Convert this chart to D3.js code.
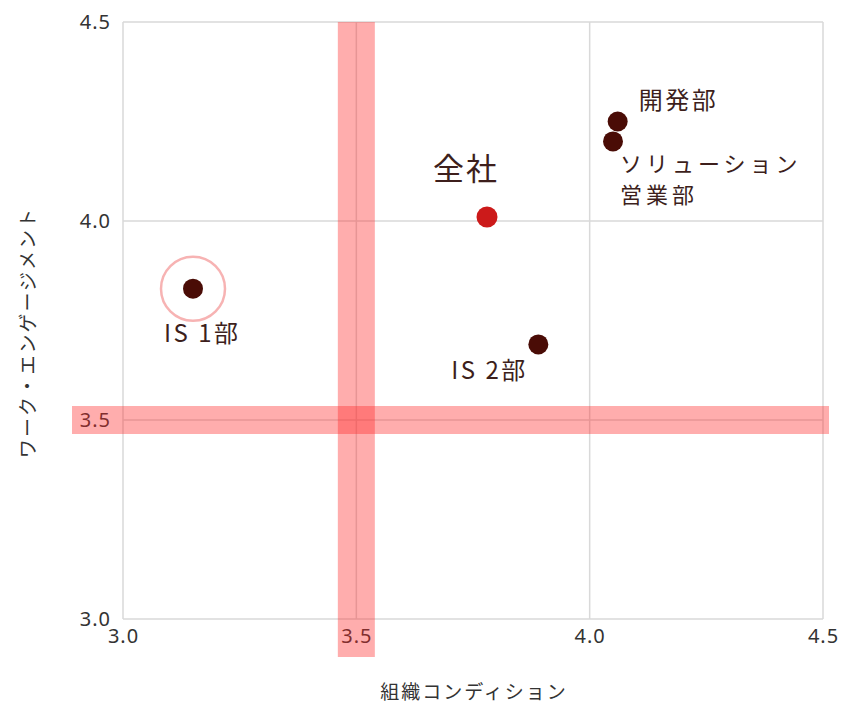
<!DOCTYPE html>
<html lang="ja">
<head>
<meta charset="utf-8">
<script src="https://cdn.jsdelivr.net/npm/d3@7"></script>
<style>
  html, body { margin: 0; padding: 0; background: #fff; }
  svg { display: block; }
  text { font-family: "Noto Sans", "Noto Sans CJK JP", sans-serif; }
</style>
</head>
<body>
<svg id="chart" width="843" height="704"></svg>
<script>
// Departments: organisational condition (x) vs work engagement (y)
const names = ["IS 1部", "全社", "IS 2部", "開発部", "ソリューション営業部"];
const condition = [3.15, 3.78, 3.89, 4.06, 4.05];
const engagement = [3.83, 4.01, 3.69, 4.25, 4.20];
const isCompany = [false, true, false, false, false];
const highlighted = [true, false, false, false, false];

const xTicks = [3.0, 3.5, 4.0, 4.5];
const yTicks = [3.0, 3.5, 4.0, 4.5];
const threshold = { x: 3.5, y: 3.5 };

const xTitle = "組織コンディション";
const yTitle = "ワーク・エンゲージメント";

const svg = d3.select("#chart");
const margin = { left: 123, right: 20, top: 22, bottom: 85 };
const W = 843, H = 704;

const x = d3.scaleLinear().domain([3.0, 4.5]).range([margin.left, W - margin.right]);
const y = d3.scaleLinear().domain([3.0, 4.5]).range([H - margin.bottom, margin.top]);

const labelFont = '"Noto Sans CJK JP", "Noto Sans", sans-serif';

// grid lines
const grid = svg.append("g");
grid.selectAll("line.v").data(xTicks).join("line")
  .attr("x1", d => x(d)).attr("x2", d => x(d))
  .attr("y1", y(4.5)).attr("y2", y(3.0))
  .attr("stroke", "#d9d9d9").attr("stroke-width", 1.5);
grid.selectAll("line.h").data(yTicks).join("line")
  .attr("y1", d => y(d)).attr("y2", d => y(d))
  .attr("x1", x(3.0)).attr("x2", x(4.5))
  .attr("stroke", "#d9d9d9").attr("stroke-width", 1.5);

// y axis tick labels
const yAxis = d3.axisLeft(y).tickValues(yTicks).tickFormat(d3.format(".1f")).tickSize(0).tickPadding(12);
const ya = svg.append("g").attr("transform", `translate(${margin.left},0)`).call(yAxis);
ya.select(".domain").remove();
ya.selectAll("text").attr("font-size", 20).attr("fill", "#333")
  .attr("dy", "0.3em")
  .style("font-family", '"Noto Sans", sans-serif').style("letter-spacing", "1px");

// x axis tick labels
const xAxis = d3.axisBottom(x).tickValues(xTicks).tickFormat(d3.format(".1f")).tickSize(0).tickPadding(10);
const xa = svg.append("g").attr("transform", `translate(0,${y(3.0)})`).call(xAxis);
xa.select(".domain").remove();
xa.selectAll("text").attr("font-size", 20).attr("fill", "#333")
  .style("font-family", '"Noto Sans", sans-serif').style("letter-spacing", "1px");

// threshold bands
const bandW = 37, bandH = 28;
svg.append("rect")
  .attr("x", x(threshold.x) - bandW / 2).attr("width", bandW)
  .attr("y", y(4.5)).attr("height", y(3.0) - y(4.5) + 38)
  .attr("fill", "rgba(255, 40, 40, 0.38)");
svg.append("rect")
  .attr("x", 72).attr("width", 829 - 72)
  .attr("y", y(threshold.y) - bandH / 2).attr("height", bandH)
  .attr("fill", "rgba(255, 40, 40, 0.38)");

// axis titles
svg.append("text")
  .attr("x", 474).attr("y", 699)
  .attr("text-anchor", "middle").attr("font-size", 19).attr("fill", "#333")
  .style("font-family", labelFont).style("letter-spacing", "2px")
  .text(xTitle);
svg.append("text")
  .attr("transform", `translate(35,${(y(3.0) + y(4.5)) / 2 + 12}) rotate(-90)`)
  .attr("text-anchor", "middle").attr("font-size", 19).attr("fill", "#333")
  .style("font-family", labelFont).style("letter-spacing", "2px")
  .text(yTitle);

const pts = names.map((n, i) => ({
  name: n, cx: condition[i], cy: engagement[i],
  company: isCompany[i], hl: highlighted[i]
}));

// highlight ring
svg.selectAll("circle.ring").data(pts.filter(d => d.hl)).join("circle")
  .attr("cx", d => x(d.cx)).attr("cy", d => y(d.cy)).attr("r", 32)
  .attr("fill", "none").attr("stroke", "#f7b3b3").attr("stroke-width", 2.5);

// points
svg.selectAll("circle.pt").data(pts).join("circle")
  .attr("cx", d => x(d.cx)).attr("cy", d => y(d.cy))
  .attr("r", d => d.company ? 10.5 : 10)
  .attr("fill", d => d.company ? "#cc1a1a" : "#4a0c06");

// point labels (multi-line labels are wrapped with tspans)
const labelColor = "#3d1f1c";
const lab = (lines, px, py, size, spacing, lineGap, family) => {
  const t = svg.append("text")
    .attr("x", px).attr("y", py).attr("font-size", size)
    .attr("fill", labelColor)
    .style("font-family", family || labelFont).style("letter-spacing", spacing + "px");
  [].concat(lines).forEach((ln, i) => {
    t.append("tspan").attr("x", px).attr("dy", i === 0 ? 0 : lineGap).text(ln);
  });
  return t;
};

const p = Object.fromEntries(pts.map(d => [d.name, d]));
const is1 = p["IS 1部"], is2 = p["IS 2部"], all = p["全社"], dev = p["開発部"];
const sol = p["ソリューション営業部"];
lab("IS 1部", x(is1.cx) - 29, y(is1.cy) + 53, 24, 2.5);
lab("全社", x(all.cx) - 54, y(all.cy) - 37, 31, 2);
lab("IS 2部", x(is2.cx) - 87, y(is2.cy) + 35, 24, 2.5);
lab("開発部", x(dev.cx) + 21, y(dev.cy) - 13, 24, 2.5);
lab(["ソリューション", "営業部"], x(sol.cx) + 7, y(sol.cy) + 31, 22, 4, 31,
    '"Noto Sans", "Noto Sans CJK JP", sans-serif');
</script>
</body>
</html>
